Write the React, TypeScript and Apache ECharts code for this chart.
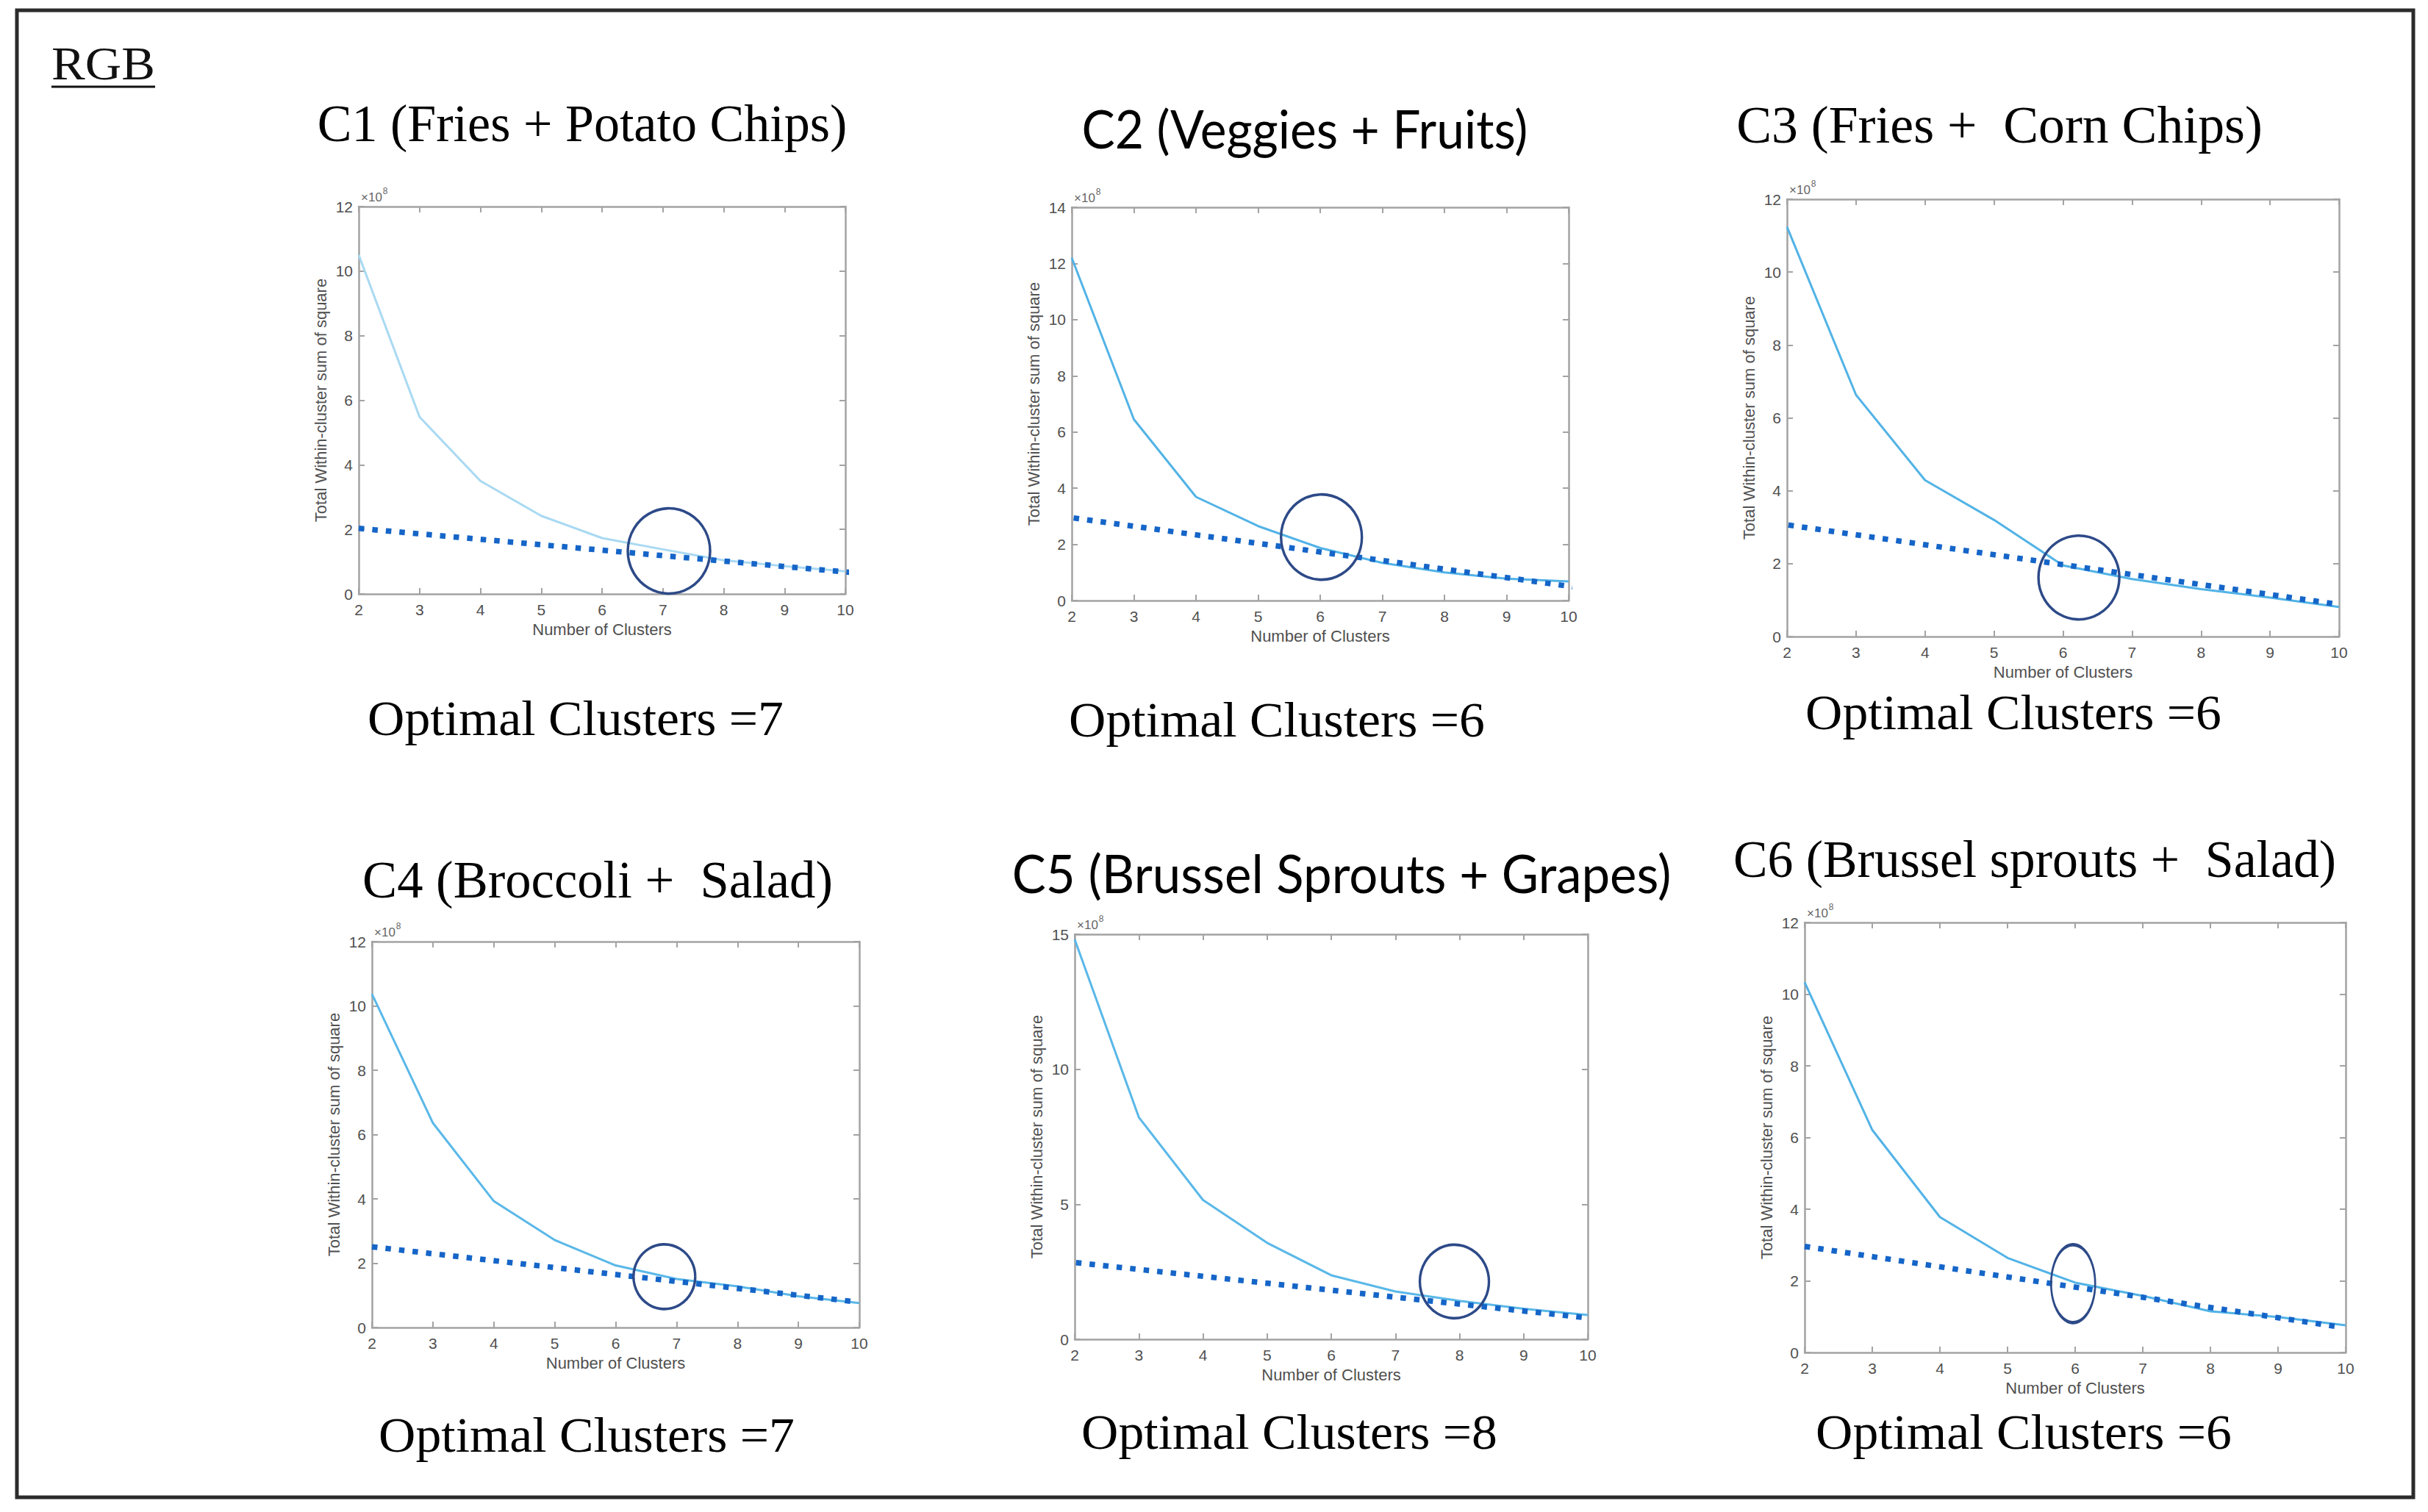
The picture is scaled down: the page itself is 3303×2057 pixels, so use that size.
import React, { useEffect, useRef } from "react";
import * as echarts from "echarts";

// ---------------- data ----------------
const clusterCounts = [2, 3, 4, 5, 6, 7, 8, 9, 10];

const titleTexts = [
  "C1 (Fries + Potato Chips)",
  "C2 (Veggies + Fruits)",
  "C3 (Fries +  Corn Chips)",
  "C4 (Broccoli +  Salad)",
  "C5 (Brussel Sprouts + Grapes)",
  "C6 (Brussel sprouts +  Salad)",
];

const optimalLabels = [
  "Optimal Clusters =7",
  "Optimal Clusters =6",
  "Optimal Clusters =6",
  "Optimal Clusters =7",
  "Optimal Clusters =8",
  "Optimal Clusters =6",
];

const wcssC1 = [10.5, 5.48, 3.5, 2.42, 1.73, 1.38, 1.04, 0.86, 0.7];
const wcssC2 = [12.2, 6.45, 3.69, 2.65, 1.87, 1.34, 1.0, 0.78, 0.68];
const wcssC3 = [11.24, 6.63, 4.29, 3.2, 1.95, 1.58, 1.3, 1.07, 0.81];
const wcssC4 = [10.37, 6.36, 3.93, 2.72, 1.93, 1.51, 1.28, 0.97, 0.76];
const wcssC5 = [14.81, 8.22, 5.16, 3.57, 2.37, 1.77, 1.42, 1.13, 0.9];
const wcssC6 = [10.33, 6.21, 3.78, 2.64, 1.95, 1.58, 1.15, 0.99, 0.76];

const trendC1 = [[2, 2.03], [10.12, 0.66]];
const trendC2 = [[2.03, 2.94], [10.13, 0.47]];
const trendC3 = [[2.02, 3.06], [10.0, 0.88]];
const trendC4 = [[2, 2.51], [9.98, 0.79]];
const trendC5 = [[2.02, 2.84], [9.92, 0.81]];
const trendC6 = [[2, 2.96], [9.92, 0.71]];

const elbowC1 = [7.1, 1.33];
const elbowC2 = [6.02, 2.26];
const elbowC3 = [6.23, 1.62];
const elbowC4 = [6.8, 1.58];
const elbowC5 = [7.92, 2.14];
const elbowC6 = [5.97, 1.92];

const yAxisMax = [12, 14, 12, 12, 15, 12];
const yAxisStep = [2, 2, 2, 2, 5, 2];

const xAxisMin = 2;
const xAxisMax = 10;
const xAxisStep = 1;

const xAxisTitle = "Number of Clusters";
const yAxisTitle = "Total Within-cluster sum of square";
const scaleMark = "\u00d710";
const scaleExp = "8";
const panelLabel = "RGB";

const wcssAll = [wcssC1, wcssC2, wcssC3, wcssC4, wcssC5, wcssC6];
const trendAll = [trendC1, trendC2, trendC3, trendC4, trendC5, trendC6];
const elbowAll = [elbowC1, elbowC2, elbowC3, elbowC4, elbowC5, elbowC6];

// ---------------- layout / style ----------------
const W = 3303;
const H = 2057;

// [left, top, width, height]
const plotRects = [
  [488, 281, 662, 527],
  [1458, 282, 676, 535],
  [2431, 271, 751, 595],
  [506, 1281, 663, 525],
  [1462, 1271, 698, 551],
  [2455, 1255, 736, 585],
];

// [centerX, middleY, targetWidth, fontFamily]
const titleLayout: [number, number, number, string][] = [
  [792, 168, 721, "Liberation Serif"],
  [1775, 174, 607, "Lato"],
  [2720, 170, 716, "Liberation Serif"],
  [813, 1196, 640, "Liberation Serif"],
  [1825, 1187, 897, "Lato"],
  [2768, 1169, 820, "Liberation Serif"],
];

// [centerX, middleY]
const captionLayout = [
  [783, 977],
  [1737, 979],
  [2739, 969],
  [798, 1952],
  [1754, 1948],
  [2753, 1948],
];
const captionWidth = 566;

// ellipse radii [rx, ry] in px
const ringSizes = [
  [56, 58],
  [55, 58],
  [55, 57],
  [42, 44],
  [47, 50],
  [30, 53],
];

const solidColors = ["#a9d9f2", "#52b3e6", "#52b3e6", "#5ab8e8", "#5ab8e8", "#52b3e6"];
const trendColor = "#1565c8";
const ringColor = "#2d4a88";
const axisColor = "#a3a3a3";
const labelColor = "#505050";
const sansFont = "Liberation Sans";

let measureCtx: CanvasRenderingContext2D | null = null;
function textWidth(text: string, size: number, family: string): number {
  if (!measureCtx) {
    const c = document.createElement("canvas");
    measureCtx = c.getContext("2d");
  }
  if (!measureCtx) return 0;
  measureCtx.font = `${size}px "${family}"`;
  return measureCtx.measureText(text).width;
}
function fitScale(text: string, size: number, family: string, target: number): number {
  const w = textWidth(text, size, family);
  return w > 0 ? target / w : 1;
}

function buildOption() {
  const grid: any[] = [];
  const xAxis: any[] = [];
  const yAxis: any[] = [];
  const series: any[] = [];
  const graphic: any[] = [];

  const lineAxisStyle = { onZero: false, lineStyle: { color: axisColor, width: 2.5 } };
  const tickStyle = { inside: true, length: 8, lineStyle: { color: axisColor, width: 2 } };
  const nameStyle = { color: labelColor, fontSize: 22, fontFamily: sansFont };

  plotRects.forEach((r, i) => {
    const [left, top, width, height] = r;
    grid.push({ left, top, width, height, containLabel: false, outerBoundsMode: "none" });

    xAxis.push({
      type: "value",
      gridIndex: i,
      position: "bottom",
      min: xAxisMin,
      max: xAxisMax,
      interval: xAxisStep,
      axisLine: lineAxisStyle,
      axisTick: tickStyle,
      axisLabel: { color: labelColor, fontSize: 21, fontFamily: sansFont, margin: 11 },
      splitLine: { show: false },
      name: xAxisTitle,
      nameLocation: "middle",
      nameGap: 37,
      nameTextStyle: nameStyle,
    });
    xAxis.push({
      type: "value",
      gridIndex: i,
      position: "top",
      min: xAxisMin,
      max: xAxisMax,
      interval: xAxisStep,
      axisLine: lineAxisStyle,
      axisTick: tickStyle,
      axisLabel: { show: false },
      splitLine: { show: false },
    });
    yAxis.push({
      type: "value",
      gridIndex: i,
      position: "left",
      min: 0,
      max: yAxisMax[i],
      interval: yAxisStep[i],
      axisLine: lineAxisStyle,
      axisTick: tickStyle,
      axisLabel: { color: labelColor, fontSize: 21, fontFamily: sansFont, margin: 8 },
      splitLine: { show: false },
      name: yAxisTitle,
      nameLocation: "middle",
      nameRotate: 90,
      nameGap: 41,
      nameTextStyle: nameStyle,
    });
    yAxis.push({
      type: "value",
      gridIndex: i,
      position: "right",
      min: 0,
      max: yAxisMax[i],
      interval: yAxisStep[i],
      axisLine: lineAxisStyle,
      axisTick: tickStyle,
      axisLabel: { show: false },
      splitLine: { show: false },
    });

    series.push({
      type: "line",
      xAxisIndex: i * 2,
      yAxisIndex: i * 2,
      data: clusterCounts.map((k, j) => [k, wcssAll[i][j]]),
      symbol: "none",
      lineStyle: { color: solidColors[i], width: 3 },
      silent: true,
      z: 2,
    });
    series.push({
      type: "line",
      xAxisIndex: i * 2,
      yAxisIndex: i * 2,
      data: trendAll[i],
      symbol: "none",
      clip: false,
      lineStyle: { color: trendColor, width: 7.5, type: [7.5, 11], cap: "butt" },
      silent: true,
      z: 3,
    });
    series.push({
      type: "scatter",
      xAxisIndex: i * 2,
      yAxisIndex: i * 2,
      data: [elbowAll[i]],
      symbol: "circle",
      symbolSize: [ringSizes[i][0] * 2, ringSizes[i][1] * 2],
      clip: false,
      itemStyle: { color: "rgba(0,0,0,0)", borderColor: ringColor, borderWidth: 3.5, opacity: 1 },
      silent: true,
      z: 4,
    });

    // ×10^8 exponent marker
    const markW = textWidth(scaleMark, 17, sansFont);
    graphic.push({
      type: "text",
      x: left + 3,
      y: top - 13,
      silent: true,
      style: {
        text: scaleMark,
        fontSize: 17,
        fontFamily: sansFont,
        fill: "#666666",
        textAlign: "left",
        textVerticalAlign: "middle",
      },
    });
    graphic.push({
      type: "text",
      x: left + 4 + markW,
      y: top - 21,
      silent: true,
      style: {
        text: scaleExp,
        fontSize: 12,
        fontFamily: sansFont,
        fill: "#666666",
        textAlign: "left",
        textVerticalAlign: "middle",
      },
    });
  });

  // outer frame
  graphic.push({
    type: "rect",
    silent: true,
    shape: { x: 23, y: 14, width: 3260, height: 2023 },
    style: { fill: "none", stroke: "#2b2b2b", lineWidth: 5 },
  });

  // RGB label with underline
  const rgbSize = 64;
  graphic.push({
    type: "text",
    x: 70,
    y: 86,
    scaleX: fitScale(panelLabel, rgbSize, "Liberation Serif", 141),
    silent: true,
    style: {
      text: panelLabel,
      fontSize: rgbSize,
      fontFamily: "Liberation Serif",
      fill: "#111111",
      textAlign: "left",
      textVerticalAlign: "middle",
    },
  });
  graphic.push({
    type: "line",
    silent: true,
    shape: { x1: 70, y1: 118, x2: 211, y2: 118 },
    style: { stroke: "#111111", lineWidth: 3 },
  });

  // titles
  titleTexts.forEach((t, i) => {
    const [cx, cy, tw, fam] = titleLayout[i];
    const size = 72;
    graphic.push({
      type: "text",
      x: cx,
      y: cy,
      scaleX: fitScale(t, size, fam, tw),
      silent: true,
      style: {
        text: t,
        fontSize: size,
        fontFamily: fam,
        fill: "#000000",
        textAlign: "center",
        textVerticalAlign: "middle",
      },
    });
  });

  // captions
  optimalLabels.forEach((t, i) => {
    const [cx, cy] = captionLayout[i];
    const size = 68;
    graphic.push({
      type: "text",
      x: cx,
      y: cy,
      scaleX: fitScale(t, size, "Liberation Serif", captionWidth),
      silent: true,
      style: {
        text: t,
        fontSize: size,
        fontFamily: "Liberation Serif",
        fill: "#000000",
        textAlign: "center",
        textVerticalAlign: "middle",
      },
    });
  });

  return {
    animation: false,
    backgroundColor: "#ffffff",
    grid,
    xAxis,
    yAxis,
    series,
    graphic,
  };
}

export default function App() {
  const ref = useRef<HTMLDivElement>(null);
  useEffect(() => {
    document.body.style.margin = "0";
    document.body.style.overflow = "hidden";
    const chart = echarts.init(ref.current as HTMLDivElement, null, { renderer: "svg" });
    chart.setOption(buildOption() as any);
    return () => {
      chart.dispose();
    };
  }, []);
  return <div ref={ref} style={{ width: W, height: H, background: "#ffffff" }} />;
}
